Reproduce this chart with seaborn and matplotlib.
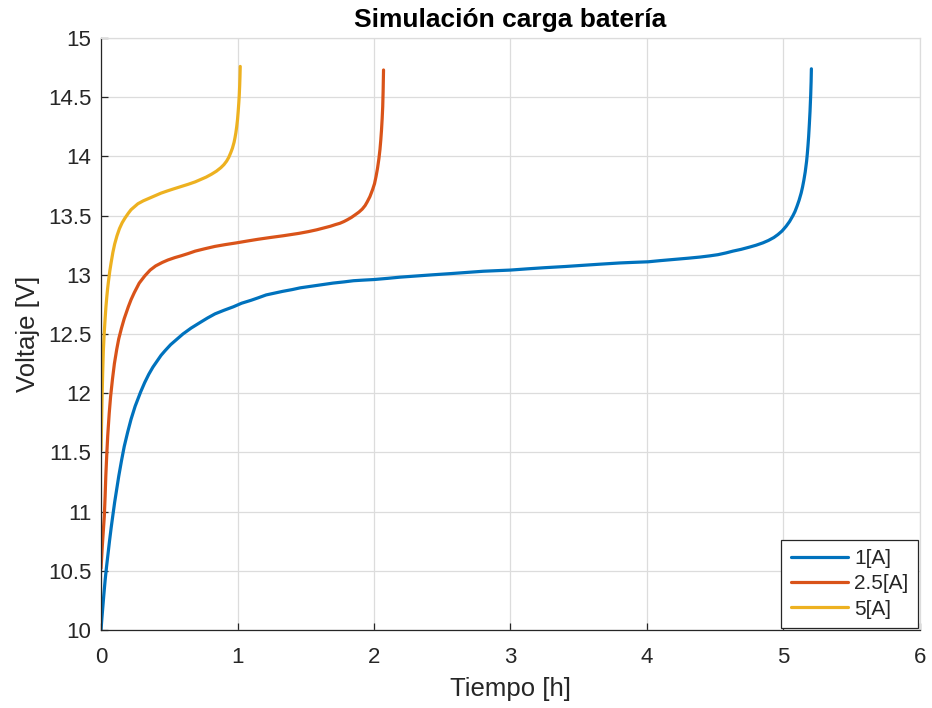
import numpy as np
import pandas as pd
import matplotlib
matplotlib.use("Agg")
import matplotlib.pyplot as plt
import seaborn as sns

# Charge curves: time [h] and terminal voltage [V] for each charging current
t_1A = [0.0, 0.005, 0.01, 0.02, 0.03, 0.04, 0.05, 0.062, 0.075, 0.088, 0.10, 0.115, 0.13, 0.15,
        0.17, 0.195, 0.22, 0.25, 0.29, 0.32, 0.35, 0.38, 0.41, 0.44, 0.47, 0.51, 0.55, 0.6,
        0.66, 0.73, 0.78, 0.835, 0.9, 0.97, 1.03, 1.1, 1.15, 1.21, 1.27, 1.33, 1.4, 1.46,
        1.52, 1.58, 1.64, 1.70, 1.78, 1.85, 1.92, 2.0, 2.1, 2.19, 2.31, 2.43, 2.56, 2.68,
        2.8, 2.9, 3.0, 3.12, 3.25, 3.4, 3.53, 3.66, 3.8, 3.9, 4.01, 4.1, 4.2, 4.3, 4.39,
        4.46, 4.52, 4.58, 4.63, 4.69, 4.755, 4.8, 4.85, 4.89, 4.93, 4.96, 4.99, 5.02, 5.045,
        5.07, 5.085, 5.10, 5.115, 5.13, 5.14, 5.15, 5.16, 5.17, 5.175, 5.18, 5.185, 5.19,
        5.195, 5.20, 5.203, 5.205]
v_1A = [10.0, 10.08, 10.15, 10.29, 10.42, 10.53, 10.63, 10.75, 10.87, 10.98, 11.08, 11.19, 11.30, 11.43,
        11.55, 11.67, 11.78, 11.89, 12.01, 12.09, 12.16, 12.22, 12.27, 12.32, 12.36, 12.41, 12.45, 12.50,
        12.55, 12.60, 12.635, 12.67, 12.70, 12.73, 12.76, 12.785, 12.805, 12.83, 12.845, 12.86, 12.875, 12.89,
        12.90, 12.91, 12.92, 12.93, 12.94, 12.95, 12.955, 12.96, 12.97, 12.98, 12.99, 13.0, 13.01, 13.02,
        13.03, 13.035, 13.04, 13.05, 13.06, 13.07, 13.08, 13.09, 13.10, 13.105, 13.11, 13.12, 13.13, 13.14, 13.15,
        13.16, 13.17, 13.185, 13.20, 13.215, 13.235, 13.25, 13.27, 13.29, 13.315, 13.34, 13.37, 13.41, 13.45,
        13.50, 13.535, 13.58, 13.63, 13.69, 13.74, 13.80, 13.87, 13.96, 14.02, 14.09, 14.17, 14.27,
        14.38, 14.52, 14.63, 14.74]

t_25A = [0.0, 0.005, 0.01, 0.017, 0.024, 0.03, 0.035, 0.042, 0.049, 0.06, 0.07, 0.084, 0.098,
         0.115, 0.13, 0.15, 0.17, 0.2, 0.22, 0.244, 0.28, 0.32, 0.36, 0.4, 0.45, 0.49, 0.54,
         0.585, 0.64, 0.69, 0.76, 0.835, 0.91, 0.994, 1.07, 1.15, 1.24, 1.336, 1.45, 1.52,
         1.58, 1.63, 1.68, 1.72, 1.75, 1.78, 1.805, 1.835, 1.86, 1.89, 1.914, 1.935, 1.95,
         1.97, 1.99, 2.004, 2.015, 2.026, 2.036, 2.044, 2.05, 2.055, 2.06, 2.064, 2.067, 2.07]
v_25A = [10.52, 10.62, 10.72, 10.84, 10.96, 11.13, 11.30, 11.48, 11.64, 11.83, 11.97, 12.12, 12.25,
         12.37, 12.46, 12.55, 12.63, 12.73, 12.79, 12.85, 12.93, 12.99, 13.04, 13.075, 13.105, 13.125, 13.145,
         13.16, 13.18, 13.20, 13.22, 13.24, 13.255, 13.27, 13.285, 13.30, 13.315, 13.33, 13.35, 13.365,
         13.38, 13.395, 13.41, 13.425, 13.435, 13.45, 13.465, 13.485, 13.505, 13.53, 13.555, 13.585, 13.615,
         13.66, 13.72, 13.77, 13.83, 13.90, 13.98, 14.06, 14.14, 14.22, 14.32, 14.42, 14.55, 14.73]

t_5A = [0.0, 0.004, 0.008, 0.012, 0.017, 0.023, 0.03, 0.036, 0.042, 0.048, 0.054, 0.064, 0.075,
        0.087, 0.10, 0.117, 0.135, 0.155, 0.176, 0.2, 0.22, 0.245, 0.27, 0.31, 0.35, 0.4,
        0.44, 0.49, 0.53, 0.585, 0.64, 0.69, 0.73, 0.77, 0.81, 0.845, 0.878, 0.9, 0.92, 0.935,
        0.95, 0.963, 0.975, 0.982, 0.988, 0.994, 1.0, 1.005, 1.01, 1.013, 1.016, 1.018, 1.02]
v_5A = [11.52, 11.75, 11.98, 12.17, 12.36, 12.50, 12.63, 12.73, 12.81, 12.88, 12.94, 13.03, 13.11,
        13.19, 13.26, 13.33, 13.39, 13.44, 13.48, 13.52, 13.55, 13.575, 13.60, 13.625, 13.645, 13.67,
        13.69, 13.71, 13.725, 13.745, 13.765, 13.785, 13.805, 13.825, 13.85, 13.875, 13.905, 13.93, 13.96, 13.99,
        14.03, 14.07, 14.12, 14.16, 14.20, 14.25, 14.31, 14.38, 14.46, 14.52, 14.60, 14.67, 14.76]

series_labels = ["1[A]", "2.5[A]", "5[A]"]
series_colors = ["#0072BD", "#D95319", "#EDB120"]

x_ticks = [0, 1, 2, 3, 4, 5, 6]
y_ticks = [10, 10.5, 11, 11.5, 12, 12.5, 13, 13.5, 14, 14.5, 15]
y_ticklabels = ["10", "10.5", "11", "11.5", "12", "12.5", "13", "13.5", "14", "14.5", "15"]

df = pd.concat([
    pd.DataFrame({"t": t_1A, "v": v_1A, "corriente": series_labels[0]}),
    pd.DataFrame({"t": t_25A, "v": v_25A, "corriente": series_labels[1]}),
    pd.DataFrame({"t": t_5A, "v": v_5A, "corriente": series_labels[2]}),
], ignore_index=True)

sns.set_style("whitegrid")
plt.rcParams["font.family"] = ["Liberation Sans", "DejaVu Sans"]

fig = plt.figure(figsize=(9.32, 7.08), dpi=100)
ax = fig.add_axes([0.1084, 0.1102, 0.8786, 0.8361])

sns.lineplot(data=df, x="t", y="v", hue="corriente", hue_order=series_labels,
             palette=series_colors, estimator=None, sort=False, linewidth=2.3, ax=ax)

ax.set_xlim(0, 6)
ax.set_ylim(10, 15)
ax.set_xticks(x_ticks)
ax.set_yticks(y_ticks)
ax.set_yticklabels(y_ticklabels)

ax.grid(True, color="#dcdcdc", linewidth=0.9)
ax.set_axisbelow(True)
for side in ["left", "bottom", "top", "right"]:
    ax.spines[side].set_visible(True)
    ax.spines[side].set_linewidth(0.9)
for side in ["left", "bottom"]:
    ax.spines[side].set_color("#262626")
for side in ["top", "right"]:
    ax.spines[side].set_color("#dcdcdc")

ax.tick_params(axis="both", which="major", direction="in", length=5, width=0.9,
               color="#262626", labelsize=16, labelcolor="#262626",
               bottom=True, left=True)
ax.tick_params(axis="x", pad=12)
ax.tick_params(axis="y", pad=7)

ax.set_xlabel("Tiempo [h]", fontsize=18.5, color="#262626", labelpad=7)
ax.set_ylabel("Voltaje [V]", fontsize=18.5, color="#262626", labelpad=6)
ax.set_title("Simulación carga batería", fontsize=19, fontweight="bold", color="black", pad=8)

leg = ax.legend(loc="lower right", fontsize=15, frameon=True, fancybox=False,
                borderaxespad=0.1, handlelength=2.75, labelspacing=0.3,
                handletextpad=0.3, borderpad=0.45)
leg.get_frame().set_edgecolor("#262626")
leg.get_frame().set_linewidth(0.9)
leg.get_frame().set_alpha(1)
for line in leg.get_lines():
    line.set_linewidth(2.3)

fig.savefig("out.png", dpi=100, facecolor="white")
